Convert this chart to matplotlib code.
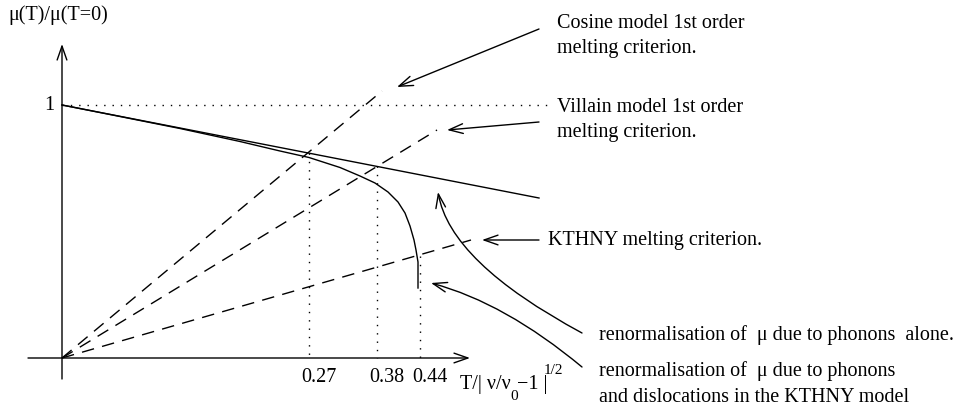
import matplotlib
matplotlib.use("Agg")
import matplotlib.pyplot as plt
from matplotlib.patches import FancyArrowPatch
from matplotlib.path import Path

plt.rcParams['font.family'] = ['Liberation Serif', 'DejaVu Serif']

# schematic drawn in picture units (x right, y down)
origin = (62, 358)
y_one = 105
x_axis_end = 470
y_axis_top = 44

# mu renormalised by phonons alone (straight line)
phonon_x = [62, 539]
phonon_y = [105, 198]

# mu renormalised by phonons and dislocations (KTHNY)
kthny_x = [62, 120, 180, 240, 280, 309, 340, 360, 375, 388, 398, 405, 410, 414, 416, 418, 418]
kthny_y = [105, 116.5, 128.5, 141.5, 151, 157.5, 167.5, 176, 183, 192, 202, 213, 226, 240, 250, 262, 288]

# melting criteria (dashed lines from the origin), end points
crit_end_x = [382, 437, 471]
crit_end_y = [91, 130, 240]

# dotted verticals at the melting temperatures
melt_x = [309, 377, 420]
melt_top = [153, 166, 256]
melt_labels = ['0.27', '0.38', '0.44']

fig = plt.figure(figsize=(9.68, 4.09), dpi=100)
ax = fig.add_axes([0, 0, 1, 1])
ax.set_xlim(0, 968)
ax.set_ylim(409, 0)
ax.axis('off')

fs = 14.5
k = dict(color='black', lw=1.0)
arrow_style = '->,head_length=1.0,head_width=0.35'

# axes with open arrowheads
ax.annotate('', xy=(origin[0], y_axis_top), xytext=(origin[0], 379),
            arrowprops=dict(arrowstyle=arrow_style, lw=1.0, color='black', shrinkA=0, shrinkB=0))
ax.annotate('', xy=(x_axis_end, origin[1]), xytext=(28, origin[1]),
            arrowprops=dict(arrowstyle=arrow_style, lw=1.0, color='black', shrinkA=0, shrinkB=0))

# level mu = 1
ax.plot([origin[0], 547], [y_one, y_one], color='black', lw=1.0, ls=(0, (1, 5)))
ax.text(49, y_one, '1', fontsize=fs, ha='center', va='center')

ax.plot(phonon_x, phonon_y, **k)
ax.plot(kthny_x, kthny_y, **k)

for xe, ye in zip(crit_end_x, crit_end_y):
    ax.plot([origin[0], xe], [origin[1], ye], color='black', lw=1.0, ls=(0, (9, 6)))

for xm, yt, lab in zip(melt_x, melt_top, melt_labels):
    ax.plot([xm, xm], [yt, origin[1]], color='black', lw=1.0, ls=(0, (1, 5)))
    ax.text(xm - 8, 377, lab, fontsize=fs, ha='left', va='center')

# axis labels
ax.text(8, 15, 'μ(T)/μ(T=0)', fontsize=fs, ha='left', va='center')
ax.text(460, 385, 'T/| ν/ν', fontsize=fs, ha='left', va='center')
ax.text(510, 396, '0', fontsize=11, ha='left', va='center')
ax.text(517, 385, '−1 |', fontsize=fs, ha='left', va='center')
ax.text(544, 371, '1/2', fontsize=11, ha='left', va='center')

# annotations
ax.text(557, 24, 'Cosine model 1st order', fontsize=fs, ha='left', va='center')
ax.text(557, 49, 'melting criterion.', fontsize=fs, ha='left', va='center')
ax.text(557, 107, 'Villain model 1st order', fontsize=fs, ha='left', va='center')
ax.text(557, 132, 'melting criterion.', fontsize=fs, ha='left', va='center')
ax.text(548, 240, 'KTHNY melting criterion.', fontsize=fs, ha='left', va='center')
ax.text(599, 335, 'renormalisation of  μ due to phonons  alone.', fontsize=fs, ha='left', va='center')
ax.text(599, 371, 'renormalisation of  μ due to phonons', fontsize=fs, ha='left', va='center')
ax.text(599, 397, 'and dislocations in the KTHNY model', fontsize=fs, ha='left', va='center')

straight = [((539, 29), (397, 87)), ((539, 122), (447, 130)), ((539, 240), (482, 240))]
for start, end in straight:
    ax.annotate('', xy=end, xytext=start,
                arrowprops=dict(arrowstyle=arrow_style, lw=1.0, color='black', shrinkA=0, shrinkB=0))

curved = [((582, 333), (450, 262), (438, 192)), ((582, 367), (505, 303), (431, 283))]
for p0, c, p1 in curved:
    path = Path([p0, c, p1], [Path.MOVETO, Path.CURVE3, Path.CURVE3])
    ax.add_patch(FancyArrowPatch(path=path, arrowstyle=arrow_style, lw=1.0, color='black',
                                 mutation_scale=10))

fig.savefig('out.png', dpi=100)
